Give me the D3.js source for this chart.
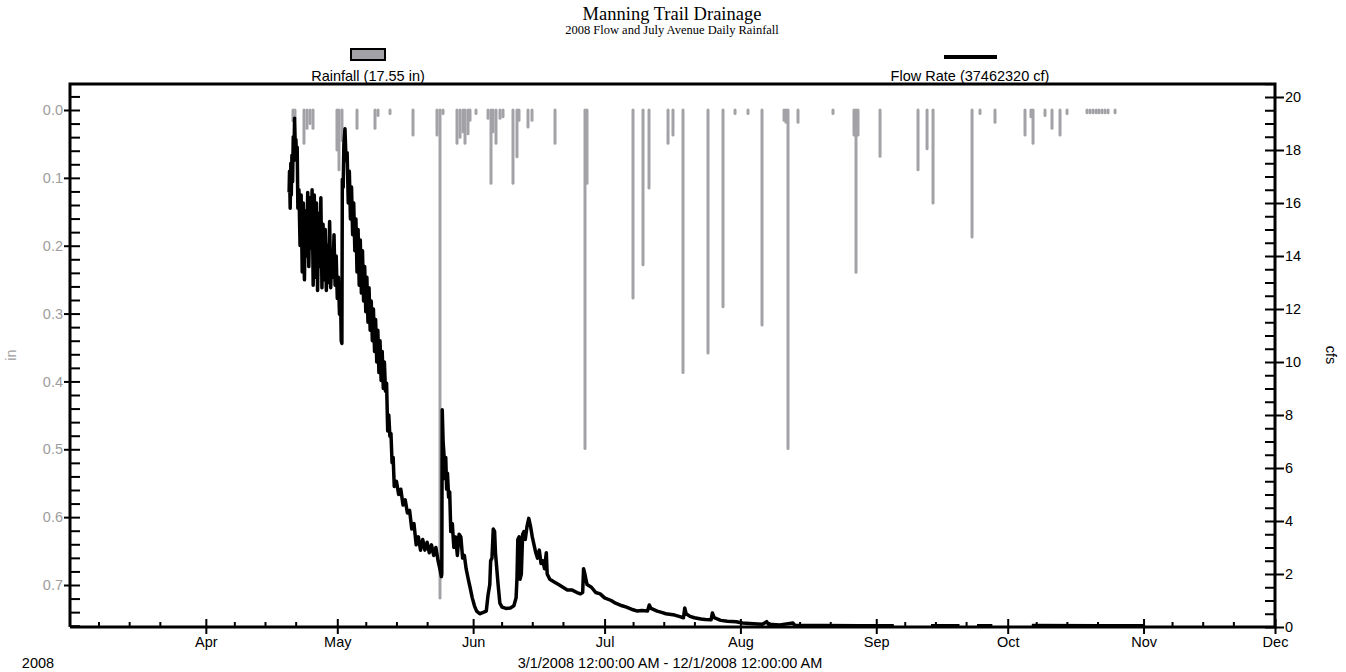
<!DOCTYPE html>
<html>
<head>
<meta charset="utf-8">
<script src="https://cdn.jsdelivr.net/npm/d3@7"></script>
<style>
body { margin: 0; background: #fff; }
svg { display: block; }
text { font-family: "Liberation Sans", Arial, sans-serif; }
</style>
</head>
<body>
<svg id="chart" width="1346" height="672"></svg>
<script>
// time axis runs 3/1/2008 - 12/1/2008; day values below are days after 3/1/2008 00:00
var startDate = new Date(2008, 2, 1),
    endDate = new Date(2008, 11, 1);

// daily rainfall (inches)
var rainDay = [50.89, 51.35, 53.40, 54.09, 54.77, 55.46, 60.93, 61.39, 62.07, 65.50,
    69.61, 70.29, 73.03, 78.28, 83.76, 84.44, 85.13, 88.32, 89.01, 89.69,
    90.15, 90.83, 91.29, 92.66, 95.40, 96.08, 96.54, 97.22, 98.13, 98.82,
    101.10, 102.01, 102.47, 104.52, 105.44, 110.69, 117.53, 117.99, 128.49, 130.77,
    132.14, 136.48, 137.61, 139.90, 145.60, 149.03, 151.77, 154.73, 157.93, 162.95,
    163.40, 163.86, 166.14, 174.13, 178.92, 179.38, 179.84, 184.86, 193.53, 195.59,
    196.96, 205.86, 207.68, 211.10, 217.95, 219.32, 219.78, 222.51, 224.11, 225.94,
    227.54, 232.1, 232.8, 233.5, 234.2, 234.8, 235.5, 236.2, 236.9, 238.5];
var rainIn = [0.016, 0.012, 0.049, 0.027, 0.020, 0.027, 0.059, 0.088, 0.045, 0.027,
    0.027, 0.008, 0.005, 0.037, 0.037, 0.719, 0.005, 0.049, 0.040, 0.032,
    0.049, 0.035, 0.015, 0.005, 0.012, 0.108, 0.032, 0.049, 0.012, 0.010,
    0.108, 0.069, 0.015, 0.025, 0.015, 0.049, 0.499, 0.108, 0.277, 0.228,
    0.115, 0.049, 0.037, 0.387, 0.358, 0.290, 0.005, 0.005, 0.317, 0.015,
    0.018, 0.499, 0.018, 0.005, 0.037, 0.239, 0.037, 0.068, 0.088, 0.057,
    0.137, 0.187, 0.005, 0.018, 0.037, 0.010, 0.049, 0.008, 0.027, 0.037,
    0.005, 0.004, 0.004, 0.004, 0.004, 0.004, 0.004, 0.004, 0.004, 0.004];

// flow rate (cfs); null marks a gap in the record
var flowDay = [50.0, 50.1, 50.25, 50.4, 50.5, 50.65, 50.8, 50.95, 51.1, 51.25,
    51.4, 51.55, 51.7, 51.85, 52.0, 52.25, 52.5, 52.75, 53.0, 53.25,
    53.5, 53.75, 54.0, 54.25, 54.5, 54.75, 55.0, 55.25, 55.5, 55.75,
    56.0, 56.25, 56.5, 56.75, 57.0, 57.25, 57.5, 57.75, 58.0, 58.25,
    58.5, 58.75, 59.0, 59.25, 59.5, 59.75, 60.0, 60.25, 60.5, 60.75,
    61.0, 61.25, 61.5, 61.75, 61.9, 62.05, 62.15, 62.35, 62.5, 62.75,
    63.0, 63.25, 63.5, 63.75, 64.0, 64.25, 64.5, 64.75, 65.0, 65.25,
    65.5, 65.75, 66.0, 66.25, 66.5, 66.75, 67.0, 67.25, 67.5, 67.75,
    68.0, 68.25, 68.5, 68.75, 69.0, 69.25, 69.5, 69.75, 70.0, 70.25,
    70.5, 70.75, 71.0, 71.25, 71.5, 71.75, 72.0, 72.25, 72.5, 72.75,
    73.0, 73.25, 73.5, 73.75, 74.0, 74.5, 75.0, 75.5, 76.0, 76.5,
    77.0, 77.5, 78.0, 78.5, 79.0, 79.5, 80.0, 80.5, 81.0, 81.5,
    82.0, 82.5, 83.0, 83.5, 84.0, 84.4, 84.75, 84.85, 84.95, 85.15,
    85.35, 85.55, 85.75, 85.95, 86.15, 86.4, 86.65, 86.9, 87.25, 87.6,
    88.0, 88.4, 88.8, 89.2, 89.6, 90.0, 90.4, 90.9, 91.3, 91.8,
    92.3, 92.8, 93.5, 94.3, 95.0, 95.4, 95.8, 96.0, 96.3, 96.6,
    96.9, 97.1, 97.3, 97.7, 98.1, 98.6, 99.5, 100.5, 101.3, 101.8,
    102.0, 102.2, 102.5, 102.7, 103.0, 103.3, 103.6, 103.9, 104.3, 104.7,
    105.1, 105.5, 105.9, 106.3, 106.7, 107.1, 107.5, 107.9, 108.3, 108.7,
    108.9, 109.5, 110.5, 111.5, 112.5, 113.5, 114.5, 115.7, 116.5, 117.0,
    117.2, 117.5, 118.0, 119.0, 120.0, 121.0, 122.0, 123.5, 124.5, 126.0,
    127.0, 128.5, 129.5, 130.5, 131.8, 132.2, 132.6, 134.0, 135.0, 136.0,
    138.0, 139.0, 140.0, 140.3, 140.6, 141.5, 142.5, 144.0, 145.0, 146.3,
    146.6, 147.0, 148.5, 150.0, 152.0, 153.5, 156.0, 158.0, 159.0, 159.4,
    162.0, 165.0, 165.4, 172.0, 180.0, 188.0, 188.1, 196.5, 203.0, 203.1,
    207.0, 210.5, 210.6, 219.5, 235.0, 245.0];
var flowCfs = [16.4, 17.2, 15.8, 17.5, 16.3, 17.8, 16.8, 18.5, 17.6, 19.2,
    18.2, 18.4, 17.8, 18.1, 15.8, 16.5, 14.4, 16.3, 13.4, 16.0,
    13.1, 15.7, 14.0, 16.4, 13.6, 16.2, 14.3, 16.5, 12.9, 16.3,
    13.2, 16.0, 12.7, 15.6, 13.6, 16.2, 12.8, 15.2, 13.1, 15.0,
    12.7, 14.4, 13.0, 15.3, 12.8, 14.2, 13.2, 14.8, 12.9, 14.0,
    12.4, 13.2, 11.8, 12.4, 10.8, 10.7, 16.9, 16.6, 18.2, 18.8,
    17.6, 17.9, 16.0, 17.2, 15.4, 16.6, 14.8, 16.0, 14.2, 15.4,
    13.4, 15.0, 12.9, 14.6, 12.6, 14.2, 12.3, 13.6, 11.9, 13.2,
    11.5, 12.8, 11.2, 12.3, 10.8, 12.0, 10.4, 11.6, 10.0, 11.2,
    9.6, 10.8, 9.3, 10.4, 9.0, 10.0, 8.9, 9.2, 7.4, 8.0,
    7.2, 7.3, 6.2, 6.4, 5.3, 5.5, 5.0, 5.2, 4.6, 4.8,
    4.3, 4.4, 3.7, 3.9, 3.1, 3.4, 2.9, 3.3, 2.9, 3.2,
    2.8, 3.1, 2.7, 3.0, 2.5, 2.2, 1.9, 2.0, 8.2, 7.0,
    6.5, 5.6, 6.4, 5.2, 5.8, 4.9, 5.1, 3.6, 3.9, 3.0,
    3.4, 2.7, 3.5, 3.4, 2.6, 2.7, 2.2, 1.8, 1.5, 1.1,
    0.8, 0.6, 0.5, 0.55, 0.6, 1.2, 1.6, 2.5, 2.6, 3.7,
    3.6, 2.8, 2.4, 1.6, 0.9, 0.75, 0.7, 0.72, 0.8, 1.1,
    1.8, 3.3, 3.4, 1.8, 2.0, 3.5, 3.6, 3.3, 3.8, 4.1,
    3.8, 3.4, 3.1, 2.8, 2.6, 2.9, 2.4, 2.5, 2.2, 2.8,
    2.0, 1.8, 1.7, 1.6, 1.5, 1.4, 1.4, 1.3, 1.25, 1.3,
    2.2, 2.0, 1.6, 1.5, 1.3, 1.25, 1.1, 1.0, 0.9, 0.8,
    0.75, 0.65, 0.6, 0.62, 0.6, 0.83, 0.7, 0.6, 0.55, 0.5,
    0.45, 0.4, 0.35, 0.72, 0.5, 0.4, 0.35, 0.3, 0.28, 0.27,
    0.53, 0.35, 0.25, 0.22, 0.2, 0.15, 0.12, 0.1, 0.2, 0.1,
    0.08, 0.15, 0.07, 0.06, 0.05, 0.05, null, 0.05, 0.05, null,
    0.05, 0.05, null, 0.06, 0.05, 0.05];

var inTicks = [0, 0.1, 0.2, 0.3, 0.4, 0.5, 0.6, 0.7];
var cfsTicks = [0, 2, 4, 6, 8, 10, 12, 14, 16, 18, 20];
var monthNames = ["Apr", "May", "Jun", "Jul", "Aug", "Sep", "Oct", "Nov", "Dec"];

var titleText = "Manning Trail Drainage",
    subtitleText = "2008 Flow and July Avenue Daily Rainfall",
    rainLegend = "Rainfall (17.55 in)",
    flowLegend = "Flow Rate (37462320 cf)",
    rangeText = "3/1/2008 12:00:00 AM - 12/1/2008 12:00:00 AM";

var rainColor = "#a3a3a7";
var labelGray = "#9d9d9d";
var fontSize = "14.5px";

function dayToDate(d) {
    return new Date(startDate.getTime() + d * 864e5);
}

var rain = rainDay.map(function(d, i) { return {t: dayToDate(d), v: rainIn[i]}; });
var flow = flowDay.map(function(d, i) { return {t: dayToDate(d), v: flowCfs[i]}; });

var svg = d3.select("#chart");

var x = d3.scaleTime().domain([startDate, endDate]).range([70, 1275]);
var yIn = d3.scaleLinear().domain([0, 0.7]).range([110, 585]);
var yCfs = d3.scaleLinear().domain([0, 20]).range([627, 97]);

var plotTop = 84, plotBottom = 627;

// titles
svg.append("text")
    .attr("x", 672).attr("y", 20)
    .attr("text-anchor", "middle")
    .style("font-family", "'Liberation Serif', 'Times New Roman', serif")
    .style("font-size", "18.5px")
    .text(titleText);
svg.append("text")
    .attr("x", 672).attr("y", 34)
    .attr("text-anchor", "middle")
    .style("font-family", "'Liberation Serif', 'Times New Roman', serif")
    .style("font-size", "12.5px")
    .text(subtitleText);

// legend
svg.append("rect")
    .attr("x", 351).attr("y", 49).attr("width", 34).attr("height", 11)
    .attr("fill", rainColor).attr("stroke", "#000").attr("stroke-width", 2);
svg.append("text")
    .attr("x", 368).attr("y", 81).attr("text-anchor", "middle")
    .style("font-size", fontSize).text(rainLegend);
svg.append("line")
    .attr("x1", 944).attr("x2", 997).attr("y1", 57).attr("y2", 57)
    .attr("stroke", "#000").attr("stroke-width", 4);
svg.append("text")
    .attr("x", 970).attr("y", 81).attr("text-anchor", "middle")
    .style("font-size", fontSize).text(flowLegend);

// rainfall bars hang from the top
svg.append("g").selectAll("line")
    .data(rain)
    .enter().append("line")
    .attr("x1", function(d) { return x(d.t); })
    .attr("x2", function(d) { return x(d.t); })
    .attr("y1", yIn(0))
    .attr("y2", function(d) { return yIn(d.v); })
    .attr("stroke", rainColor)
    .attr("stroke-width", 3)
    .attr("stroke-linecap", "round");

// flow line
var line = d3.line()
    .defined(function(d) { return d.v != null; })
    .x(function(d) { return x(d.t); })
    .y(function(d) { return yCfs(d.v); });

svg.append("path")
    .datum(flow)
    .attr("d", line)
    .attr("fill", "none")
    .attr("stroke", "#000")
    .attr("stroke-width", 3.5)
    .attr("stroke-linejoin", "round");

// minor tick values
var inMinor = d3.range(-1, 39).map(function(i) { return i * 0.02; });
var cfsMinor = d3.range(0, 42).map(function(i) { return i * 0.5; });
var monthTicks = d3.timeMonth.range(d3.timeMonth.offset(startDate, 1), d3.timeMonth.offset(endDate, 1));
var weekTicks = [];
d3.timeMonth.range(startDate, endDate).forEach(function(m) {
    [6.5, 13.5, 20.5].forEach(function(k) {
        weekTicks.push(new Date(m.getTime() + k * 864e5));
    });
});

function styleAxis(g, color) {
    g.select(".domain").remove();
    g.selectAll(".tick line").attr("stroke", "#000").attr("stroke-width", 2);
    g.selectAll(".tick text")
        .attr("fill", color)
        .style("font-family", "'Liberation Sans', Arial, sans-serif")
        .style("font-size", fontSize);
}

// left axis (rainfall): inside minor ticks + outside major ticks with labels
svg.append("g").attr("transform", "translate(70,0)")
    .call(d3.axisRight(yIn).tickValues(inMinor).tickSize(10).tickFormat(""))
    .call(styleAxis, labelGray);
svg.append("g").attr("transform", "translate(70,0)")
    .call(d3.axisLeft(yIn).tickValues(inTicks).tickSize(6).tickPadding(1).tickFormat(d3.format(".1f")))
    .call(styleAxis, labelGray);

// right axis (flow)
svg.append("g").attr("transform", "translate(1275,0)")
    .call(d3.axisLeft(yCfs).tickValues(cfsMinor).tickSize(10).tickFormat(""))
    .call(styleAxis, "#000");
svg.append("g").attr("transform", "translate(1275,0)")
    .call(d3.axisRight(yCfs).tickValues(cfsTicks).tickSize(9).tickPadding(1).tickFormat(d3.format("d")))
    .call(styleAxis, "#000");

// bottom axis (time)
svg.append("g").attr("transform", "translate(0," + plotBottom + ")")
    .call(d3.axisTop(x).tickValues(weekTicks).tickSize(5).tickFormat(""))
    .call(styleAxis, "#000");
svg.append("g").attr("transform", "translate(0," + plotBottom + ")")
    .call(d3.axisTop(x).tickValues(monthTicks).tickSize(8).tickFormat(""))
    .call(styleAxis, "#000");
svg.append("g").attr("transform", "translate(0," + plotBottom + ")")
    .call(d3.axisBottom(x).tickValues(monthTicks).tickSize(7).tickPadding(3)
        .tickFormat(function(d, i) { return monthNames[i]; }))
    .call(styleAxis, "#000");

// frame
svg.append("path")
    .attr("d", "M70," + plotBottom + "V" + plotTop + "H1275V" + plotBottom + "H70")
    .attr("fill", "none").attr("stroke", "#000").attr("stroke-width", 3);

// axis titles
svg.append("text")
    .attr("transform", "translate(16,355) rotate(-90)")
    .attr("text-anchor", "middle").attr("fill", labelGray)
    .style("font-size", fontSize).text("in");
svg.append("text")
    .attr("transform", "translate(1326,355) rotate(90)")
    .attr("text-anchor", "middle")
    .style("font-size", fontSize).text("cfs");
svg.append("text")
    .attr("x", 38).attr("y", 668).attr("text-anchor", "middle")
    .style("font-size", fontSize).text("2008");
svg.append("text")
    .attr("x", 670).attr("y", 668).attr("text-anchor", "middle")
    .style("font-size", fontSize).text(rangeText);
</script>
</body>
</html>
